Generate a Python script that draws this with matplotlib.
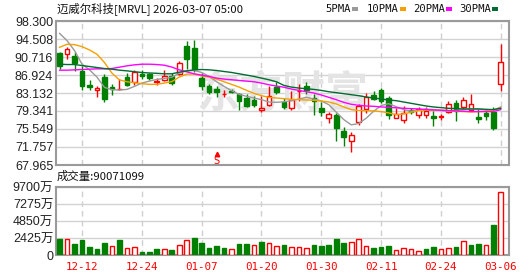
import matplotlib
matplotlib.use("Agg")
import matplotlib.pyplot as plt
from matplotlib.patches import Rectangle
import numpy as np

# Datos (precios en USD, volumen en 万 acciones)
fechas = ["12-09", "12-10", "12-11", "12-12", "12-15", "12-16", "12-17", "12-18", "12-19", "12-22",
          "12-23", "12-24", "12-26", "12-29", "12-30", "12-31", "01-02", "01-05", "01-06", "01-07",
          "01-08", "01-09", "01-12", "01-13", "01-14", "01-15", "01-16", "01-20", "01-21", "01-22",
          "01-23", "01-26", "01-27", "01-28", "01-29", "01-30", "02-02", "02-03", "02-04", "02-05",
          "02-06", "02-09", "02-10", "02-11", "02-12", "02-13", "02-17", "02-18", "02-19", "02-20",
          "02-23", "02-24", "02-25", "02-26", "02-27", "03-02", "03-03", "03-04", "03-05", "03-06"]

aperturas = [91.65, 91.44, 90.95, 87.67, 84.87, 83.69, 86.48, 84.31, 83.90, 86.48,
             85.50, 87.18, 87.18, 85.36, 85.85, 86.78, 87.18, 93.04, 92.62, 86.27,
             84.66, 84.04, 82.85, 83.62, 82.99, 82.08, 81.59, 79.64, 80.54, 84.38,
             81.31, 79.91, 83.45, 84.66, 82.15, 80.05, 77.89, 78.52, 75.03, 73.07,
             76.98, 79.78, 82.71, 83.69, 82.01, 77.96, 77.54, 79.50, 78.52, 78.45,
             78.38, 78.10, 79.22, 81.03, 80.19, 79.50, 78.10, 78.87, 79.08, 85.01]
maximos = [91.80, 92.90, 91.72, 88.92, 85.92, 84.66, 87.18, 85.08, 86.06, 87.32,
           88.02, 87.88, 87.30, 86.20, 88.02, 87.28, 89.97, 94.16, 94.30, 87.32,
           85.01, 84.52, 83.69, 83.97, 83.06, 82.99, 82.43, 82.43, 84.52, 85.50,
           82.01, 83.48, 85.08, 85.50, 82.99, 81.31, 79.08, 78.94, 76.00, 74.89,
           80.89, 83.13, 83.48, 84.17, 82.43, 79.98, 80.47, 80.00, 80.19, 80.19,
           79.29, 78.80, 81.38, 81.73, 82.29, 82.99, 79.77, 79.77, 80.19, 93.46]
minimos = [88.16, 90.25, 87.67, 83.82, 83.69, 82.29, 81.17, 82.78, 83.85, 84.52,
           84.80, 86.13, 85.92, 84.80, 85.57, 84.82, 86.97, 88.22, 87.46, 83.69,
           82.99, 82.29, 82.29, 83.06, 79.50, 80.19, 80.19, 79.08, 80.47, 82.99,
           79.78, 79.64, 81.52, 82.99, 78.45, 78.24, 76.84, 73.00, 71.95, 70.77,
           76.42, 78.94, 81.59, 81.03, 77.68, 77.82, 76.84, 78.80, 77.89, 77.89,
           76.14, 77.40, 78.94, 77.19, 79.77, 79.29, 76.77, 77.40, 75.30, 83.48]
cierres = [88.92, 92.34, 89.55, 84.52, 84.31, 84.17, 81.87, 84.04, 84.00, 84.87,
           87.46, 86.62, 86.34, 85.71, 86.76, 85.18, 89.41, 90.32, 88.29, 84.66,
           83.34, 83.27, 82.99, 83.34, 81.38, 80.47, 80.55, 79.91, 82.50, 83.27,
           80.19, 81.73, 83.60, 83.69, 81.45, 79.08, 78.73, 75.73, 73.84, 74.19,
           80.33, 82.22, 81.87, 81.38, 78.59, 78.75, 78.94, 79.20, 79.77, 79.36,
           77.82, 78.38, 80.82, 79.43, 81.73, 80.82, 77.68, 78.24, 75.73, 89.62]

volumen = [2270, 2270, 1560, 2130, 1135, 850, 1700, 1230, 2200, 946,
           1135, 426, 426, 850, 804, 710, 1370, 2080, 2410, 1700,
           990, 1280, 990, 804, 1560, 1560, 1370, 1845, 1655, 1230,
           1420, 1135, 1135, 990, 1420, 1280, 1420, 2270, 1700, 1845,
           2270, 1280, 990, 1135, 1280, 710, 990, 850, 570, 850,
           1135, 850, 990, 1135, 1990, 1420, 1560, 1420, 4260, 9007.1099]
# color del volumen: R = sube respecto al cierre anterior, G = baja
volumen_color = "GRGGGGGRGRRGGGRGRRGGGGGRGGRGRRGRRRGGGGGRRRGGGRRRRGGRRGRGGRGR"

ma5 = [95.69, 94.16, 92.06, 89.20, 88.01, 86.48, 84.31, 83.82, 83.76, 83.89,
       84.52, 85.22, 85.64, 85.99, 86.20, 86.45, 87.32, 87.80, 87.87, 87.46,
       86.62, 85.50, 84.52, 83.62, 82.85, 82.43, 82.08, 81.73, 81.24, 81.17,
       81.28, 81.52, 81.87, 82.22, 81.87, 81.45, 80.68, 79.08, 77.54, 76.42,
       76.70, 77.82, 79.29, 80.47, 80.89, 80.26, 79.64, 79.29, 79.50, 79.77,
       79.64, 79.43, 79.29, 79.50, 79.64, 79.77, 79.77, 79.57, 79.50, 80.19]
ma10 = [92.76, 93.39, 93.32, 92.90, 92.20, 91.29, 89.55, 87.32, 85.90, 85.50,
        85.30, 85.10, 84.95, 84.95, 85.22, 85.53, 86.48, 87.11, 87.11, 86.76,
        86.48, 86.06, 85.50, 84.94, 84.38, 83.69, 83.06, 82.57, 82.22, 82.08,
        81.94, 81.80, 81.73, 81.66, 81.59, 81.45, 81.24, 80.82, 80.19, 79.64,
        79.43, 79.43, 79.36, 79.22, 78.94, 78.59, 78.73, 79.08, 79.36, 79.50,
        79.50, 79.50, 79.43, 79.29, 79.22, 79.15, 79.22, 79.29, 79.50, 79.98]
ma20 = [87.94, 87.94, 88.01, 88.08, 88.15, 88.22, 88.22, 88.29, 88.57, 88.85,
        89.06, 89.20, 89.20, 89.13, 88.99, 88.60, 88.01, 87.59, 87.18, 86.90,
        86.62, 86.27, 86.06, 85.92, 85.78, 85.64, 85.50, 85.22, 84.87, 84.59,
        84.35, 83.96, 83.68, 83.40, 83.13, 82.71, 82.22, 81.73, 81.17, 80.75,
        80.54, 80.40, 80.33, 80.19, 80.12, 80.02, 79.91, 79.84, 79.77, 79.64,
        79.57, 79.50, 79.43, 79.36, 79.29, 79.22, 79.22, 79.22, 79.22, 79.64]
ma30 = [89.20, 89.13, 89.13, 88.92, 88.71, 88.50, 88.29, 88.15, 87.94, 87.80,
        87.62, 87.45, 87.35, 87.28, 87.18, 87.18, 87.52, 87.80, 88.01, 88.08,
        88.01, 87.87, 87.66, 87.46, 87.18, 86.90, 86.62, 86.27, 85.92, 85.50,
        84.73, 84.38, 84.17, 84.03, 83.89, 83.68, 83.40, 83.20, 82.99, 82.78,
        82.57, 82.29, 82.08, 81.87, 81.66, 81.52, 81.24, 80.96, 80.68, 80.40,
        80.19, 80.05, 79.91, 79.84, 79.77, 79.77, 79.77, 79.70, 79.64, 79.91]

valores_y = [67.965, 71.757, 75.549, 79.341, 83.132, 86.924, 90.716, 94.508, 98.300]
etiquetas_y = ["67.965", "71.757", "75.549", "79.341", "83.132", "86.924", "90.716", "94.508", "98.300"]
valores_vol = [0, 2425, 4850, 7275, 9700]
etiquetas_vol = ["0", "2425万", "4850万", "7275万", "9700万"]
fechas_eje = ["12-12", "12-24", "01-07", "01-20", "01-30", "02-11", "02-24", "03-06"]

titulo = "迈威尔科技[MRVL] 2026-03-07 05:00"
medias = [("5PMA", ma5, "#9a9a9a"), ("10PMA", ma10, "#f5a000"),
          ("20PMA", ma20, "#ff00ff"), ("30PMA", ma30, "#006b32")]
senal_fecha = "01-09"

ROJO = "#ff0000"
VERDE = "#008000"
GRIS_BORDE = "#9a9a9a"
FUENTE_CJK = ["Noto Sans CJK SC", "DejaVu Sans"]
FUENTE_NUM = ["Liberation Sans", "Noto Sans CJK SC"]


def estilo_ejes(ax):
    for s in ax.spines.values():
        s.set_color(GRIS_BORDE)
        s.set_linewidth(1.5)
    ax.set_axisbelow(True)
    ax.grid(axis="y", color="#d2d2d2", linewidth=1.0, linestyle="-")
    ax.grid(axis="x", color="#cfcfcf", linewidth=1.0, linestyle=(0, (4, 3)))
    ax.tick_params(length=0, pad=2, labelsize=9, labelcolor="#222222")


W, H = 530, 276
fig = plt.figure(figsize=(W / 100, H / 100), dpi=100)
ax = fig.add_axes([56 / W, 1 - 165 / H, 453 / W, 144 / H])
axv = fig.add_axes([56 / W, 1 - 255 / H, 453 / W, 68 / H])

x = np.arange(len(fechas))
o = np.array(aperturas)
h = np.array(maximos)
l = np.array(minimos)
c = np.array(cierres)
sube = c >= o
col = np.where(sube, ROJO, VERDE)

# Velas
ax.vlines(x, l, h, colors=col, linewidth=1.0, zorder=3)
ax.bar(x, np.maximum(np.abs(c - o), 0.04), bottom=np.minimum(o, c), width=0.62,
       color=np.where(sube, "white", VERDE), edgecolor=col, linewidth=1.0, zorder=4)

# Medias móviles
for nombre, serie, color in medias:
    ax.plot(x, serie, color=color, linewidth=1.0, zorder=5)

# Marca de señal "S"
xs = fechas.index(senal_fecha)
ax.plot([xs], [70.35], marker="^", markersize=3.2, color=ROJO, zorder=6, clip_on=False)
ax.text(xs, 68.9, "S", color=ROJO, fontsize=7, ha="center", va="center",
        family="DejaVu Sans", zorder=6)

# Marca de agua
ax.text(0.50, 0.49, "东方财富", transform=ax.transAxes, fontsize=31, color="#e4e4e4",
        family=FUENTE_CJK, fontweight="bold", ha="center", va="center", zorder=1)

ax.set_xlim(-0.48, 60.1)
ax.set_ylim(valores_y[0], valores_y[-1])
ax.set_yticks(valores_y)
ax.set_yticklabels(etiquetas_y, family=FUENTE_NUM)
pos_eje = [fechas.index(f) for f in fechas_eje]
ax.set_xticks(pos_eje)
ax.set_xticklabels([])
estilo_ejes(ax)

# Volumen
vol_col = [ROJO if v == "R" else VERDE for v in volumen_color]
vol_fill = ["white" if v == "R" else VERDE for v in volumen_color]
axv.bar(x, volumen, width=0.62, color=vol_fill, edgecolor=vol_col, linewidth=1.0, zorder=3)
axv.set_xlim(-0.48, 60.1)
axv.set_ylim(valores_vol[0], valores_vol[-1])
axv.set_yticks(valores_vol)
axv.set_yticklabels(etiquetas_vol, family=FUENTE_NUM)
axv.set_xticks(pos_eje)
axv.set_xticklabels(fechas_eje, color=ROJO, family="DejaVu Sans Mono", fontsize=7.8)
estilo_ejes(axv)
axv.tick_params(axis="x", pad=5, labelcolor=ROJO, labelsize=7.8)

# Textos superiores
fig.text(57 / W, 1 - 8.5 / H, titulo, family=FUENTE_CJK, fontsize=8.2,
         color="#111111", ha="left", va="center")
fig.text(57 / W, 1 - 176.5 / H, f"成交量:{int(round(volumen[-1] * 10000))}",
         family=FUENTE_CJK, fontsize=8.2, color="#111111", ha="left", va="center")

# Leyenda de medias
x_leyenda = [325, 367, 413, 459]
for (nombre, serie, color), xl in zip(medias, x_leyenda):
    t = fig.text(xl / W, 1 - 9 / H, nombre, family="DejaVu Sans Mono", fontsize=7.6,
                 color="#111111", ha="left", va="center")
for (nombre, serie, color), xr in zip(medias, [352, 400, 446, 492]):
    fig.add_artist(Rectangle((xr / W, 1 - 10.5 / H), 6 / W, 3.5 / H,
                             transform=fig.transFigure, facecolor=color, edgecolor="none"))

fig.savefig("out.png", dpi=100)
